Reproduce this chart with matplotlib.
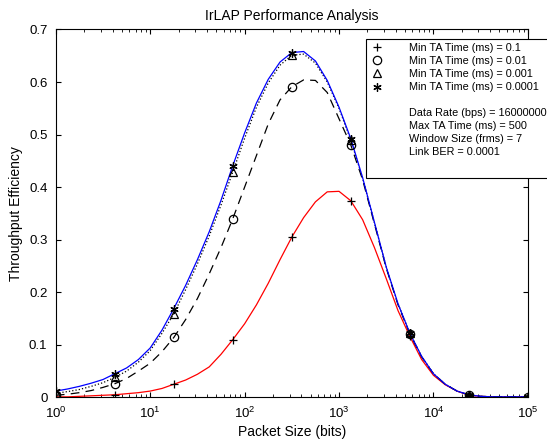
import numpy as np
import matplotlib
matplotlib.use('Agg')
import matplotlib.pyplot as plt
from matplotlib.lines import Line2D
from matplotlib.patches import Rectangle

plt.rcParams['font.family'] = ['Liberation Sans', 'DejaVu Sans']

# packet size exponents (log10 of bits), 0.125 step
log_size = np.linspace(0, 5, 41)

# throughput efficiency
ta_01 = [0.001, 0.001, 0.002, 0.003, 0.004, 0.005, 0.007, 0.009, 0.012, 0.017,
         0.025, 0.033, 0.044, 0.058, 0.082, 0.110, 0.140, 0.176, 0.217, 0.262,
         0.305, 0.342, 0.372, 0.391, 0.392, 0.374, 0.338, 0.285, 0.226, 0.165,
         0.116, 0.072, 0.042, 0.024, 0.012, 0.004, 0.002, 0.001, 0.001, 0.001, 0.001]
ta_001 = [0.004, 0.006, 0.009, 0.013, 0.019, 0.026, 0.036, 0.050, 0.065, 0.087,
          0.114, 0.148, 0.188, 0.235, 0.285, 0.340, 0.400, 0.460, 0.520, 0.566,
          0.591, 0.604, 0.603, 0.580, 0.530, 0.480, 0.414, 0.330, 0.246, 0.176,
          0.121, 0.077, 0.045, 0.025, 0.012, 0.005, 0.002, 0.001, 0.001, 0.001, 0.001]
ta_0001 = [0.008, 0.011, 0.015, 0.021, 0.028, 0.038, 0.050, 0.067, 0.089, 0.122,
           0.159, 0.205, 0.254, 0.307, 0.366, 0.429, 0.493, 0.552, 0.598, 0.632,
           0.651, 0.653, 0.636, 0.600, 0.550, 0.489, 0.417, 0.332, 0.248, 0.178,
           0.122, 0.078, 0.045, 0.025, 0.012, 0.005, 0.002, 0.001, 0.001, 0.001, 0.001]
ta_00001 = [0.012, 0.016, 0.021, 0.027, 0.034, 0.045, 0.056, 0.072, 0.094, 0.128,
            0.169, 0.213, 0.262, 0.315, 0.375, 0.441, 0.503, 0.560, 0.605, 0.638,
            0.656, 0.658, 0.640, 0.603, 0.552, 0.492, 0.418, 0.333, 0.248, 0.178,
            0.122, 0.078, 0.045, 0.025, 0.012, 0.005, 0.002, 0.001, 0.001, 0.001, 0.001]

labels = ['Min TA Time (ms) = 0.1', 'Min TA Time (ms) = 0.01',
          'Min TA Time (ms) = 0.001', 'Min TA Time (ms) = 0.0001']
params = ['Data Rate (bps) = 16000000', 'Max TA Time (ms) = 500',
          'Window Size (frms) = 7', 'Link BER = 0.0001']

size = 10 ** log_size

fig = plt.figure(figsize=(5.47, 4.46), dpi=100)
ax = fig.add_axes([0.102, 0.109, 0.863, 0.825])

# curves
ax.plot(size, ta_01, color='red', lw=0.9)
ax.plot(size, ta_001, color='black', lw=0.9, dashes=(7, 5))
ax.plot(size, ta_0001, color='black', lw=0.9, linestyle=':')
ax.plot(size, ta_00001, color='blue', lw=0.9)

# markers every fifth point
mk = dict(color='black', linestyle='none', markersize=6, markeredgewidth=0.9)
ax.plot(size[::5], ta_01[::5], marker='+', **mk)
ax.plot(size[::5], ta_001[::5], marker='o', markerfacecolor='none', **mk)
ax.plot(size[::5], ta_0001[::5], marker='^', markerfacecolor='none', **mk)
ax.plot(size[::5], ta_00001[::5], marker=(6, 2, 0), **mk)

ax.set_xscale('log')
ax.set_xlim(1, 1e5)
ax.set_ylim(0, 0.7)
ax.set_yticks(np.arange(0, 0.71, 0.1))
ax.set_yticklabels(['0', '0.1', '0.2', '0.3', '0.4', '0.5', '0.6', '0.7'])
ax.tick_params(which='both', direction='in', top=True, right=True, labelsize=9.5)
ax.tick_params(which='major', length=3.6)
ax.tick_params(which='minor', length=2)
ax.tick_params(axis='x', pad=6)
ax.tick_params(axis='y', pad=6)
for s in ax.spines.values():
    s.set_linewidth(0.8)

ax.set_title('IrLAP Performance Analysis', fontsize=10, pad=7)
ax.set_xlabel('Packet Size (bits)', fontsize=10, labelpad=3)
ax.set_ylabel('Throughput Efficiency', fontsize=10, labelpad=4)

# legend box (runs past the right edge like the original)
box = Rectangle((0.669, 0.6016), 0.34, 0.3103, transform=fig.transFigure,
                facecolor='white', edgecolor='black', linewidth=0.8)
fig.patches.append(box)

handles = [
    Line2D([], [], marker='+', **mk),
    Line2D([], [], marker='o', markerfacecolor='none', **mk),
    Line2D([], [], marker='^', markerfacecolor='none', **mk),
    Line2D([], [], marker=(6, 2, 0), **mk),
    Line2D([], [], linestyle='none'),
]
texts = labels + [''] + params
handles += [Line2D([], [], linestyle='none') for _ in params]
leg = fig.legend(handles, texts, loc='upper left', bbox_to_anchor=(0.669, 0.9119),
                 fontsize=7.8, frameon=False, borderaxespad=0, numpoints=1,
                 handlelength=1.26, handletextpad=2.33, labelspacing=0.28,
                 borderpad=0.36)

fig.savefig('out.png', dpi=100)
